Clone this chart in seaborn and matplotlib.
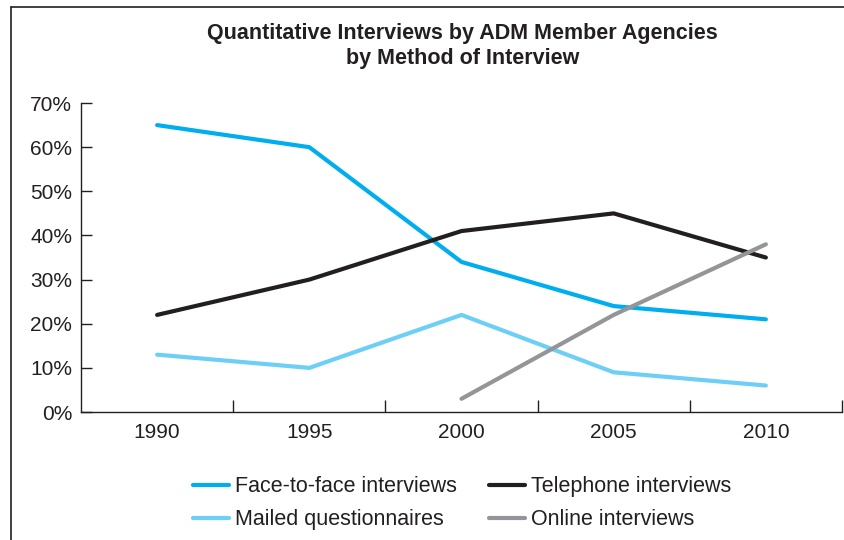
import numpy as np
import pandas as pd
import seaborn as sns
import matplotlib.pyplot as plt
from matplotlib.lines import Line2D
from matplotlib.ticker import PercentFormatter, FixedLocator

# data
years = [1990, 1995, 2000, 2005, 2010]
face_to_face = [65, 60, 34, 24, 21]
telephone = [22, 30, 41, 45, 35]
mailed = [13, 10, 22, 9, 6]
online = [np.nan, np.nan, 3, 22, 38]

methods = ['Face-to-face interviews', 'Mailed questionnaires',
           'Telephone interviews', 'Online interviews']
colors = ['#00AEEF', '#6DCFF6', '#231F20', '#939598']

# long format for seaborn
df = pd.DataFrame({
    'Year': years * 4,
    'Share': face_to_face + mailed + telephone + online,
    'Method': [m for m in methods for _ in years],
})

sns.set_theme(style='white')
plt.rcParams['font.family'] = ['Liberation Sans', 'DejaVu Sans']
dark = '#231F20'

fig = plt.figure(figsize=(8.45, 5.4), dpi=100)
ax = fig.add_axes([0.0959, 0.2370, 0.9005, 0.5722])

sns.lineplot(data=df, x='Year', y='Share', hue='Method', hue_order=methods,
             palette=colors, linewidth=3, ax=ax, legend=False)

ax.set_xlim(1987.5, 2012.5)
ax.set_ylim(0, 70)
ax.set_xlabel('')
ax.set_ylabel('')

# boundary ticks between categories, labels at the years
ax.xaxis.set_major_locator(FixedLocator([1992.5, 1997.5, 2002.5, 2007.5, 2012.5]))
ax.xaxis.set_minor_locator(FixedLocator(years))
ax.xaxis.set_major_formatter(plt.NullFormatter())
ax.xaxis.set_minor_formatter(plt.FixedFormatter([str(y) for y in years]))
ax.tick_params(axis='x', which='major', bottom=True, direction='in', length=8.5,
               width=1, color=dark)
ax.tick_params(axis='x', which='minor', bottom=True, length=0, pad=8,
               labelsize=15, labelcolor=dark)

ax.set_yticks(range(0, 71, 10))
ax.yaxis.set_major_formatter(PercentFormatter(decimals=0))
ax.tick_params(axis='y', left=True, direction='in', length=8, width=1, color=dark,
               pad=6.5, labelsize=15, labelcolor=dark)

sns.despine(ax=ax)
for side in ['left', 'bottom']:
    ax.spines[side].set_color(dark)
    ax.spines[side].set_linewidth(1)

fig.text(0.547, 0.915, 'Quantitative Interviews by ADM Member Agencies\nby Method of Interview',
         ha='center', va='center', fontsize=15.5, fontweight='bold', color=dark,
         linespacing=1.25)

handles = [Line2D([0], [0], color=c, lw=3) for c in colors]
fig.legend(handles, methods, loc='center', bbox_to_anchor=(0.547, 0.068), ncol=2,
           frameon=False, fontsize=15.5, handlelength=1.65, handletextpad=0.3,
           columnspacing=1.5, labelspacing=0.55, borderpad=0, labelcolor=dark)

# frame lines at the left and top of the picture
fig.add_artist(Line2D([0.013, 0.013], [0, 0.987], color=dark, lw=1.2))
fig.add_artist(Line2D([0.013, 1], [0.987, 0.987], color=dark, lw=1.2))

fig.savefig('out.png', dpi=100)
